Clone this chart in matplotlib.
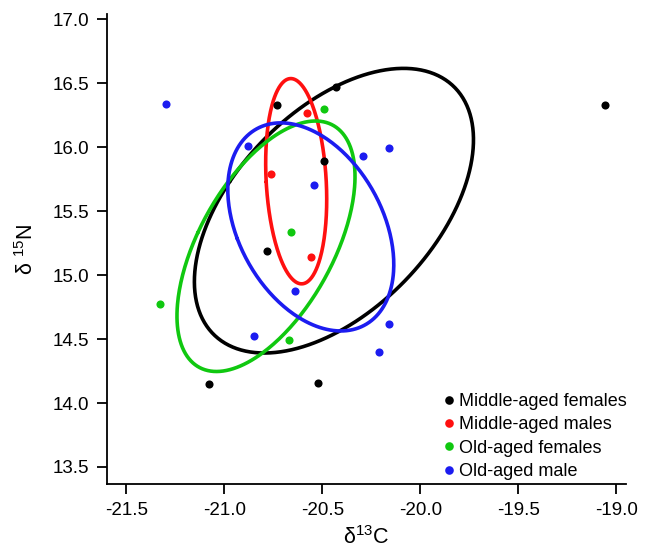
import numpy as np
import matplotlib
matplotlib.use("Agg")
import matplotlib.pyplot as plt
from matplotlib.lines import Line2D

plt.rcParams['font.family'] = ['Liberation Sans', 'DejaVu Sans']
plt.rcParams['mathtext.fontset'] = 'custom'
plt.rcParams['mathtext.rm'] = 'Liberation Sans'
plt.rcParams['mathtext.it'] = 'Liberation Sans:italic'

groups = ["Middle-aged females", "Middle-aged males", "Old-aged females", "Old-aged male"]
colors = ["#000000", "#ff1010", "#10c810", "#1c1cf0"]

mf_x = [-20.73, -20.43, -20.49, -20.78, -21.08, -20.52, -19.055]
mf_y = [16.33, 16.47, 15.89, 15.19, 14.15, 14.16, 16.33]
mm_x = [-20.58, -20.76, -20.56]
mm_y = [16.27, 15.79, 15.14]
of_x = [-20.49, -20.66, -21.33, -20.67]
of_y = [16.30, 15.34, 14.77, 14.49]
om_x = [-21.30, -20.88, -20.29, -20.16, -20.54, -20.64, -20.16, -20.85, -20.21]
om_y = [16.34, 16.01, 15.93, 15.99, 15.70, 14.875, 14.62, 14.52, 14.40]

xs = [mf_x, mm_x, of_x, om_x]
ys = [mf_y, mm_y, of_y, om_y]

xticks = [-21.5, -21.0, -20.5, -20.0, -19.5, -19.0]
yticks = [13.5, 14.0, 14.5, 15.0, 15.5, 16.0, 16.5, 17.0]

fig = plt.figure(figsize=(6.46, 5.5), dpi=100)
ax = fig.add_axes([107/646, 1-484/550, (626-107)/646, (484-14)/550])


def seac(x, y, npts=300):
    x = np.asarray(x, float)
    y = np.asarray(y, float)
    n = len(x)
    cov = np.cov(x, y) * (n - 1) / (n - 2)
    vals, vecs = np.linalg.eigh(cov)
    t = np.linspace(0, 2 * np.pi, npts)
    circ = np.vstack([np.cos(t), np.sin(t)])
    pts = vecs @ (np.sqrt(vals)[:, None] * circ)
    return x.mean() + pts[0], y.mean() + pts[1]


for gx, gy, c in zip(xs, ys, colors):
    ax.scatter(gx, gy, s=34, color=c, zorder=3, linewidths=0)
for gx, gy, c in zip(xs, ys, colors):
    ex, ey = seac(gx, gy)
    ax.plot(ex, ey, color=c, lw=2.6, zorder=2, solid_capstyle='round')

ax.set_xlim(-21.599, -18.95)
ax.set_ylim(13.367, 17.04)
ax.set_xticks(xticks)
ax.set_xticklabels([f"{v:.1f}" for v in xticks])
ax.set_yticks(yticks)
ax.set_yticklabels([f"{v:.1f}" for v in yticks])
for s in ["top", "right"]:
    ax.spines[s].set_visible(False)
for s in ["left", "bottom"]:
    ax.spines[s].set_linewidth(1.3)
ax.tick_params(direction='out', length=7, width=1.3, labelsize=13.5, pad=6)

ax.set_xlabel(r"δ$^{13}$C", fontsize=15.5, labelpad=5)
ax.set_ylabel(r"δ $^{15}$N", fontsize=15.5, labelpad=10)

handles = [Line2D([], [], marker='o', ls='none', color=c, markersize=6.2, markeredgewidth=0)
           for c in colors]
fig.legend(handles, groups, loc='upper left', bbox_to_anchor=(440/646, 1-393/550),
           frameon=False, fontsize=13, handletextpad=0.05, labelspacing=0.35,
           handlelength=1.0, borderaxespad=0.0, borderpad=0.0)

fig.savefig("out.png", dpi=100)
